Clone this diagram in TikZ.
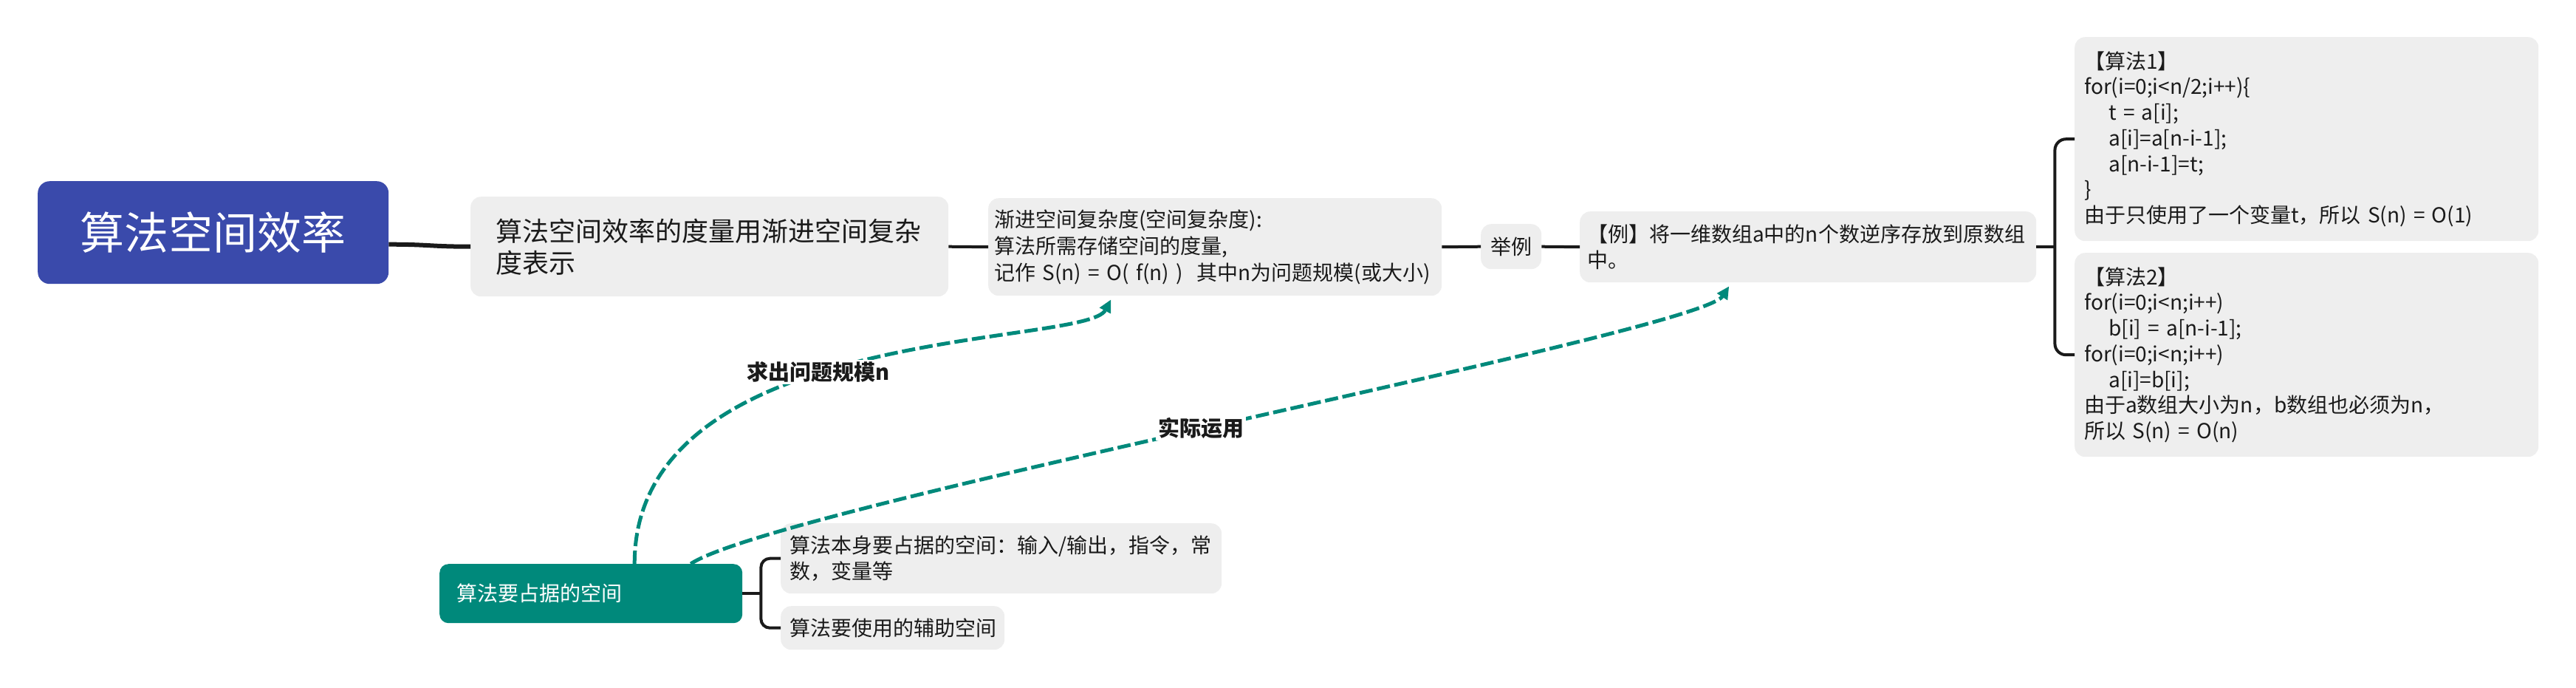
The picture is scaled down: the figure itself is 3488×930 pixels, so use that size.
\documentclass[tikz,border=0pt]{standalone}
\usepackage{fontspec}
\setmainfont{Noto Sans CJK SC}
\usetikzlibrary{arrows.meta, calc}

\definecolor{rootblue}{HTML}{3A4AAB}
\definecolor{tealgreen}{HTML}{00897B}
\definecolor{boxgray}{HTML}{EEEEEE}
\definecolor{inkdark}{HTML}{1A1A1A}

\begin{document}
\begin{tikzpicture}[
  x=1pt, y=-1pt,
  every node/.style={align=left, text=inkdark},
  topic/.style={rectangle, rounded corners=14pt, fill=boxgray, anchor=north west,
    inner ysep=0pt, font=\fontsize{28}{35}\selectfont},
  rootbox/.style={rectangle, rounded corners=16pt, fill=rootblue, anchor=north west,
    text=white, align=center, font=\fontsize{60}{72}\selectfont},
  spacebox/.style={rectangle, rounded corners=12pt, fill=tealgreen, anchor=north west,
    text=white, inner ysep=0pt, font=\fontsize{28}{35}\selectfont},
  branch/.style={draw=inkdark, line width=4pt},
  relation/.style={draw=tealgreen, line width=5pt, dash pattern=on 18pt off 6pt,
    -{Triangle[length=17pt, width=16pt]}},
  rellabel/.style={fill=white, inner sep=3pt, font=\bfseries\fontsize{29}{35}\selectfont}
]

\useasboundingbox (0,0) rectangle (3488,930);

% Main topic and the chain to the right
\node (root) [rootbox, minimum width=475pt, minimum height=139pt] at (51,245)
  {算法空间效率};

\node (measure) [topic, text width=579pt, inner xsep=34pt, minimum height=135pt,
  font=\fontsize{36}{43}\selectfont] at (637,266)
  {算法空间效率的度量用渐进空间复杂\\度表示};

\node (asym) [topic, text width=598pt, inner xsep=8pt, minimum height=132pt,
  font=\fontsize{28}{36}\selectfont] at (1338,268)
  {渐进空间复杂度(空间复杂度):\\算法所需存储空间的度量,\\\mbox{记作 S(n) = O( f(n) )~ 其中n为问题规模(或大小)}};

\node (eg) [topic, minimum width=82pt, minimum height=61pt, inner xsep=0pt,
  align=center] at (2005,303) {举例};

\node (ex) [topic, text width=598pt, inner xsep=10pt, minimum height=96pt] at (2139,286)
  {【例】将一维数组a中的n个数逆序存放到原数组\\中。};

% The two algorithms
\node (algoA) [topic, text width=602pt, inner xsep=13pt, minimum height=276pt,
  font=\fontsize{28}{34.7}\selectfont] at (2809,50)
  {【算法1】\\for(i=0;i<n/2;i++)\{\\\hspace*{33pt}t = a[i];\\\hspace*{33pt}a[i]=a[n-i-1];\\
   \hspace*{33pt}a[n-i-1]=t;\\\}\\由于只使用了一个变量t，所以 S(n) = O(1)};

\node (algoB) [topic, text width=602pt, inner xsep=13pt, minimum height=276pt,
  font=\fontsize{28}{34.7}\selectfont] at (2809,342)
  {【算法2】\\for(i=0;i<n;i++)\\\hspace*{33pt}b[i] = a[n-i-1];\\for(i=0;i<n;i++)\\
   \hspace*{33pt}a[i]=b[i];\\由于a数组大小为n，b数组也必须为n，\\所以 S(n) = O(n)};

% Floating topic and its children
\node (space) [spacebox, text width=364pt, inner xsep=23pt, minimum height=80pt] at (595,763)
  {算法要占据的空间};

\node (own) [topic, text width=573pt, inner xsep=12pt, minimum height=95pt] at (1057,708)
  {算法本身要占据的空间：输入/输出，指令，常\\数，变量等};

\node (aux) [topic, text width=279pt, inner xsep=12pt, minimum height=59pt] at (1057,820)
  {算法要使用的辅助空间};

% Branches
\draw[branch, line width=6pt] ([yshift=-16pt]root.east) .. controls +(55,0) and +(-55,0) .. (measure.west);
\draw[branch] (measure.east) -- (asym.west);
\draw[branch] (asym.east) -- (eg.west);
\draw[branch] (eg.east) -- (ex.west);
\draw[branch] (ex.east) -- ++(25,0) coordinate (exfork);
\draw[branch, rounded corners=15pt] (algoA.west) -| (exfork) |- (algoB.west);
\draw[branch] (space.east) -- ++(25,0) coordinate (spacefork);
\draw[branch, rounded corners=12pt] (own.west) -| (spacefork) |- (aux.west);

% Relationships
\draw[relation] ([xshift=59pt]space.north) .. controls +(0,-327) and +(-34,65) ..
  ([xshift=-141pt, yshift=-5pt]asym.south) node[rellabel, pos=0.435] (findn) {求出问题规模n};
\draw[relation] ([xshift=135pt]space.north) .. controls +(115,-77) and +(-41,63) ..
  ([xshift=-107pt, yshift=-5pt]ex.south) node[rellabel, pos=0.48] (apply) {实际运用};

\end{tikzpicture}
\end{document}
